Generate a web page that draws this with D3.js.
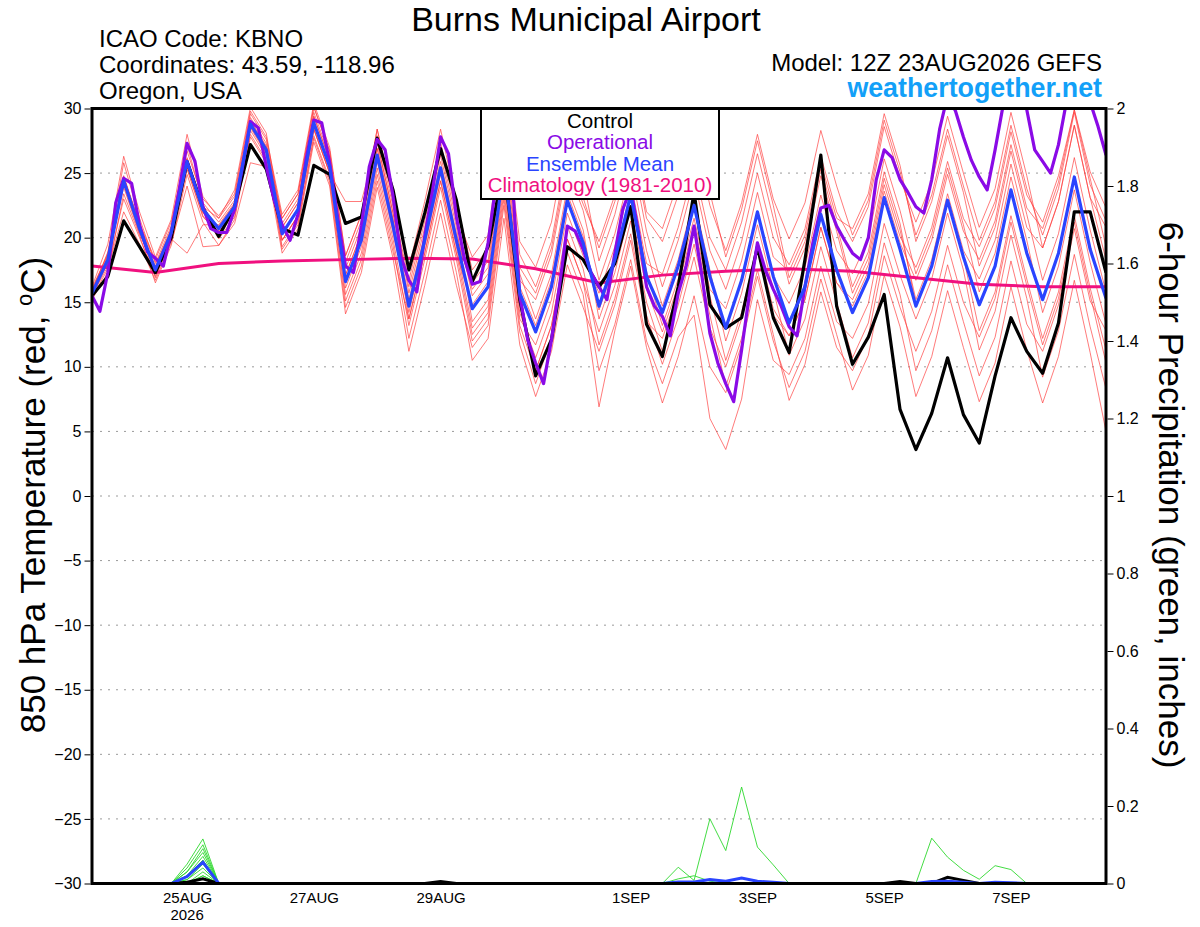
<!DOCTYPE html>
<html><head><meta charset="utf-8">
<script src="https://cdn.jsdelivr.net/npm/d3@7"></script>
<style>
html,body{margin:0;padding:0;background:#fff;}
svg{display:block;font-family:"Liberation Sans",Arial,Helvetica,sans-serif;}
</style></head><body>
<svg id="chart" width="1200" height="927"></svg>
<script>
// ---------------- DATA ----------------
const runStartUTC = [2026, 7, 23, 12];           // 12Z 23AUG2026
const tickDateStrings = ["2026-08-25","2026-08-27","2026-08-29","2026-09-01","2026-09-03","2026-09-05","2026-09-07"];
const tickLabels = ["25AUG","27AUG","29AUG","1SEP","3SEP","5SEP","7SEP"];
const yearLabel = "2026";
const tempTicks = [-30,-25,-20,-15,-10,-5,0,5,10,15,20,25,30];
const precipTicks = [0,0.2,0.4,0.6,0.8,1,1.2,1.4,1.6,1.8,2];
const precipTickLabels = ["0","0.2","0.4","0.6","0.8","1","1.2","1.4","1.6","1.8","2"];

// Control (6-hourly, °C)
const control = [15.5,17.0,21.3,19.3, 17.3,20.0,25.9,22.3, 20.1,22.4,27.2,25.3, 20.7,20.2,25.6,24.9,
 21.1,21.6,27.7,23.7, 17.5,21.9,26.9,22.9, 16.6,19.3,25.5,15.2, 9.3,12.1,19.3,18.3,
 16.2,18.0,22.4,13.3, 10.8,16.2,23.5,14.8, 13.0,13.8,19.3,13.8, 11.1,18.3,26.4,14.7,
 10.2,12.3,15.6,6.7, 3.6,6.4,10.7,6.3, 4.1,9.3,13.8,11.2, 9.5,13.4,22.0,22.0, 17.3];

// Ensemble mean (6-hourly, °C)
const ensMean = [15.7,18.3,24.4,20.7, 17.5,20.4,25.9,22.2, 20.7,22.4,28.8,26.8, 20.3,22.2,28.9,25.5,
 16.6,19.8,26.4,20.9, 14.7,19.8,25.4,19.8, 14.5,16.2,25.5,15.7, 12.7,16.2,22.9,19.6,
 14.7,18.3,23.3,17.0, 14.2,17.8,22.5,17.0, 13.0,16.7,22.0,17.0, 13.4,16.2,21.8,17.5,
 14.2,16.9,23.1,19.1, 14.7,17.8,22.9,18.5, 14.8,17.8,23.7,18.8, 15.2,18.8,24.7,19.1, 15.3];

// Operational (3-hourly, °C)
const operational = [15.5,14.3,17.3,22.7,24.6,24.2,21.0,18.9,18.4,17.8,
 20.4,23.7,27.3,25.9,22.4,20.7,20.4,20.4,22.2,25.5,
 29.0,28.5,25.5,22.9,21.0,19.8,21.8,26.0,29.1,28.9,
 25.8,21.6,17.8,17.3,20.9,25.5,27.6,26.8,23.2,18.5,
 16.7,15.8,20.1,23.7,27.8,26.5,21.6,18.4,16.4,16.6,
 19.6,24.2,27.0,25.0,15.5,12.1,10.3,8.7,12.1,16.2,
 20.9,20.5,19.1,17.3,16.2,15.2,18.8,22.2,23.8,20.4,
 16.2,14.7,13.9,12.4,15.7,17.8,20.9,17.0,12.6,10.3,
 8.7,7.3,11.3,15.7,19.6,17.5,16.0,14.7,13.1,12.4,
 16.2,19.6,22.3,22.5,20.9,19.8,18.8,18.3,20.0,24.5,
 26.8,26.2,24.5,23.5,22.4,21.9,24.5,28.4,31.0,29.8,
 27.8,26.0,24.7,23.7,26.8,30.2,31.5,31.5,29.9,26.8,
 25.9,25.0,27.2,30.5,32.0,32.0,30.5,28.6,26.4];

// Climatology 1981-2010 (daily at 12Z, °C)
const climatology = [17.8,17.3,18.0,18.2,18.3,18.4,18.35,17.6,16.5,17.1,17.4,17.6,17.4,16.9,16.4,16.2,16.2];

// Ensemble members (6-hourly, °C)
const member01 = [16.1,18.7,24.8,21.1, 18.3,21.2,26.7,23.0, 21.7,23.4,29.8,27.8, 21.8,23.7,30.4,27.0, 18.6,21.8,28.4,22.9, 17.7,22.8,28.4,22.8, 17.5,19.2,28.5,18.7, 16.2,19.7,26.4,23.1, 19.2,22.8,27.8,21.5, 19.7,23.3,28.0,22.5, 19.0,22.7,28.0,23.0, 19.9,22.7,28.3,24.0, 20.2,22.9,29.1,25.1, 20.2,23.3,28.4,24.0, 19.8,22.8,28.7,23.8, 20.2,23.8,29.7,24.1, 21.3];
const member02 = [15.3,17.6,22.0,19.5, 16.7,19.6,24.0,19.3, 19.4,21.4,27.8,25.8, 18.8,20.7,27.4,24.0, 14.1,17.3,23.9,18.4, 11.2,16.3,21.9,16.3, 11.5,13.2,22.5,12.7, 8.7,12.2,18.9,15.6, 6.9,12.8,17.8,11.5, 7.2,10.8,15.5,10.0, 8.0,11.7,17.0,12.0, 8.4,11.2,16.8,12.5, 8.2,10.9,17.1,13.1, 7.7,10.8,15.9,11.5, 7.3,10.3,16.2,11.3, 7.2,10.8,16.7,11.1, 5.0];
const member03 = [15.9,18.8,25.8,21.5, 18.0,20.9,27.2,22.7, 21.2,22.9,29.3,27.3, 21.1,23.0,29.7,26.3, 18.1,21.3,27.9,22.4, 16.7,21.8,27.4,21.8, 18.5,20.2,29.5,19.7, 17.7,21.2,27.9,24.6, 18.2,21.8,26.8,20.5, 16.2,19.8,24.5,19.0, 16.0,19.7,25.0,20.0, 17.9,20.7,26.3,22.0, 19.7,22.4,28.6,24.6, 21.2,24.3,29.4,25.0, 20.8,23.8,29.7,24.8, 19.2,22.8,28.7,23.1, 18.3];
const member04 = [15.5,17.8,23.0,20.0, 17.0,19.9,25.4,21.7, 20.2,21.9,28.3,26.3, 19.3,21.2,27.9,24.5, 15.6,18.8,25.4,19.9, 13.2,18.3,23.9,18.3, 12.0,13.7,23.0,13.2, 9.7,13.2,19.9,16.6, 12.7,16.3,21.3,15.0, 11.2,14.8,19.5,14.0, 8.5,12.2,17.5,12.5, 7.4,10.2,15.8,11.5, 9.7,12.4,18.6,14.6, 11.2,14.3,19.4,15.0, 12.3,15.3,21.2,16.3, 11.7,15.3,21.2,15.6, 10.3];
const member05 = [16.0,18.5,24.7,21.0, 17.7,20.6,26.1,22.4, 21.5,23.2,29.6,27.6, 21.5,23.4,30.1,26.7, 17.1,20.3,26.9,21.4, 13.7,18.8,24.4,18.8, 12.5,14.2,23.5,13.7, 11.7,15.2,21.9,18.6, 15.7,19.3,24.3,18.0, 17.2,20.8,25.5,20.0, 17.5,21.2,26.5,21.5, 16.4,19.2,24.8,20.5, 15.7,18.4,24.6,20.6, 15.2,18.3,23.4,19.0, 16.8,19.8,25.7,20.8, 19.2,22.8,28.7,23.1, 20.8];
const member06 = [15.4,18.1,24.1,20.4, 17.3,20.2,25.7,22.0, 19.9,21.6,28.0,26.0, 19.8,21.7,28.4,25.0, 22.8,22.8,27.4,21.9, 16.2,21.3,26.9,21.3, 15.5,17.2,26.5,16.7, 15.2,18.7,25.4,22.1, 16.7,20.3,25.3,19.0, 14.7,18.3,23.0,17.5, 12.0,15.7,21.0,16.0, 10.9,13.7,19.3,15.0, 10.7,13.4,19.6,15.6, 9.7,12.8,17.9,13.5, 9.3,12.3,18.2,13.3, 11.2,14.8,20.7,15.1, 12.8];
const member07 = [15.8,18.9,24.7,21.0, 18.1,19.9,18.8,21.0, 21.0,22.7,29.1,27.1, 19.8,21.7,28.4,25.0, 15.1,18.3,24.9,19.4, 12.2,17.3,22.9,17.3, 10.5,12.2,21.5,11.7, 7.7,11.2,17.9,14.6, 11.2,14.8,19.8,13.5, 12.2,15.8,20.5,15.0, 13.0,16.7,22.0,17.0, 14.9,17.7,23.3,19.0, 17.2,19.9,26.1,22.1, 17.2,20.3,25.4,21.0, 15.8,18.8,24.7,19.8, 14.2,17.8,23.7,18.1, 13.3];
const member08 = [15.6,18.2,24.3,20.6, 16.9,19.8,25.3,21.6, 20.4,22.1,28.5,26.5, 20.8,22.7,29.4,26.0, 17.6,20.8,27.4,21.9, 15.2,20.3,25.9,20.3, 16.0,17.7,27.0,17.2, 13.7,17.2,23.9,20.6, 13.7,17.3,22.3,16.0, 12.7,16.3,21.0,15.5, 10.5,14.2,19.5,14.5, 12.4,15.2,20.8,16.5, 14.7,17.4,23.6,19.6, 16.7,19.8,24.9,20.5, 18.3,21.3,27.2,22.3, 20.7,24.3,29.9,24.6, 19.3];
const member09 = [16.2,19.5,26.3,22.0, 18.5,21.4,28.0,23.2, 21.5,23.7,30.1,28.1, 20.8,22.7,29.4,26.0, 16.1,19.3,25.9,20.4, 14.7,19.8,25.4,19.8, 16.5,18.2,27.5,17.7, 15.7,19.2,25.9,22.6, 19.7,23.3,28.3,22.0, 20.7,24.3,29.0,23.5, 18.5,22.2,27.5,22.5, 16.9,19.7,25.3,21.0, 16.2,18.9,25.1,21.1, 14.7,17.8,22.9,18.5, 12.8,15.8,21.7,16.8, 12.2,15.8,21.7,16.1, 11.3];
const member10 = [15.2,17.3,23.4,20.2, 16.5,19.4,24.9,21.2, 19.4,21.1,25.8,25.5, 19.8,21.7,28.4,25.0, 17.1,20.3,26.9,21.4, 14.2,19.3,24.9,19.3, 13.0,14.7,24.0,14.2, 10.7,14.2,20.9,17.6, 11.7,15.3,20.3,14.0, 10.2,13.8,18.5,13.0, 10.0,13.7,19.0,14.0, 12.4,15.2,20.8,16.5, 15.2,17.9,24.1,20.1, 17.7,20.8,25.9,21.5, 19.3,22.3,28.2,23.3, 21.2,24.8,29.9,25.1, 22.3];
const member11 = [15.6,18.6,23.9,20.3, 17.8,20.7,26.2,22.5, 20.5,22.2,28.6,26.6, 19.1,21.0,27.7,24.3, 14.6,17.8,24.4,18.9, 13.7,18.8,24.4,18.8, 14.8,16.6,25.0,16.2, 13.2,16.7,23.4,20.1, 14.4,17.9,23.8,17.4, 13.2,16.8,21.5,16.0, 14.5,18.2,23.5,18.5, 17.4,20.2,25.8,21.5, 20.7,23.4,29.6,25.6, 19.7,22.8,27.9,23.5, 17.8,20.8,26.7,21.8, 16.7,20.3,26.2,20.6, 15.8];
const member12 = [15.8,18.0,24.5,21.0, 17.2,20.1,25.6,21.9, 20.9,22.6,29.0,27.0, 21.5,23.4,30.1,26.7, 18.6,21.8,28.4,22.9, 15.7,20.8,26.4,20.8, 13.5,15.2,24.5,14.7, 9.7,13.2,19.9,16.6, 9.7,13.3,18.3,12.0, 8.7,12.3,14.0,6.0, 3.6,7.5,15.2,10.5, 9.4,12.2,17.8,13.5, 12.2,14.9,21.1,17.1, 13.7,16.8,21.9,17.5, 11.3,14.3,20.2,15.3, 9.2,12.8,18.7,13.1, 8.3];
const members = [member01,member02,member03,member04,member05,member06,member07,member08,member09,member10,member11,member12];

// 6-hour precipitation (inches), 6-hourly
const precipControl = [0,0,0,0,0, 0,0.003,0.012,0,0, 0,0,0,0,0, 0,0,0,0,0, 0,0,0.005,0,0, 0,0,0,0,0, 0,0,0,0,0, 0,0,0,0,0, 0,0,0,0,0, 0,0,0,0,0, 0,0.005,0,0,0.016, 0.008,0,0,0,0, 0,0,0,0,0];
const precipMean = [0,0,0,0,0, 0,0.018,0.055,0,0, 0,0,0,0,0, 0,0,0,0,0, 0,0,0,0,0, 0,0,0,0,0, 0,0,0,0,0, 0,0,0.004,0.004,0.010, 0.006,0.014,0.006,0.003,0, 0,0,0,0,0, 0,0,0,0.005,0.006, 0.003,0,0.003,0.002,0, 0,0,0,0,0];
const precipM01 = [0,0,0,0,0, 0,0.02,0.07,0,0, 0,0,0,0,0, 0,0,0,0,0, 0,0,0,0,0, 0,0,0,0,0, 0,0,0,0,0, 0,0,0,0,0, 0,0,0,0,0, 0,0,0,0,0, 0,0,0,0,0, 0,0,0,0,0, 0,0,0,0,0];
const precipM02 = [0,0,0,0,0, 0,0,0.02,0,0, 0,0,0,0,0, 0,0,0,0,0, 0,0,0,0,0, 0,0,0,0,0, 0,0,0,0,0, 0,0,0,0,0, 0,0,0,0,0, 0,0,0,0,0, 0,0,0,0,0, 0,0,0,0,0, 0,0,0,0,0];
const precipM03 = [0,0,0,0,0, 0,0.05,0.115,0,0, 0,0,0,0,0, 0,0,0,0,0, 0,0,0,0,0, 0,0,0,0,0, 0,0,0,0,0, 0,0,0,0,0, 0,0,0,0,0, 0,0,0,0,0, 0,0,0,0,0, 0,0,0,0,0, 0,0,0,0,0];
const precipM04 = [0,0,0,0,0, 0,0.01,0.05,0,0, 0,0,0,0,0, 0,0,0,0,0, 0,0,0,0,0, 0,0,0,0,0, 0,0,0,0,0, 0,0,0,0,0, 0,0,0,0,0, 0,0,0,0,0, 0,0,0,0,0, 0,0,0,0,0, 0,0,0,0,0];
const precipM05 = [0,0,0,0,0, 0,0.03,0.09,0,0, 0,0,0,0,0, 0,0,0,0,0, 0,0,0,0,0, 0,0,0,0,0, 0,0,0,0,0, 0,0,0.042,0.008,0.167, 0.085,0.249,0.094,0.048,0, 0,0,0,0,0, 0,0,0,0,0, 0,0,0,0,0, 0,0,0,0,0];
const precipM06 = [0,0,0,0,0, 0,0,0.03,0,0, 0,0,0,0,0, 0,0,0,0,0, 0,0,0,0,0, 0,0,0,0,0, 0,0,0,0,0, 0,0,0,0,0, 0,0,0,0,0, 0,0,0,0,0, 0,0,0,0,0, 0,0,0,0,0, 0,0,0,0,0];
const precipM07 = [0,0,0,0,0, 0,0.04,0.10,0,0, 0,0,0,0,0, 0,0,0,0,0, 0,0,0,0,0, 0,0,0,0,0, 0,0,0,0,0, 0,0,0,0,0, 0,0,0,0,0, 0,0,0,0,0, 0,0,0,0,0, 0,0,0,0,0, 0,0,0,0,0];
const precipM08 = [0,0,0,0,0, 0,0.02,0.06,0,0, 0,0,0,0,0, 0,0,0,0,0, 0,0,0,0,0, 0,0,0,0,0, 0,0,0,0,0, 0,0,0,0,0, 0,0,0,0,0, 0,0,0,0,0, 0,0,0,0.117,0.068, 0.034,0.011,0.046,0.036,0, 0,0,0,0,0];
const precipM09 = [0,0,0,0,0, 0,0.01,0.04,0,0, 0,0,0,0,0, 0,0,0,0,0, 0,0,0,0,0, 0,0,0,0,0, 0,0,0,0,0, 0,0,0.012,0.02,0.006, 0,0,0,0,0, 0,0,0,0,0, 0,0,0,0,0, 0,0,0,0,0, 0,0,0,0,0];
const precipM10 = [0,0,0,0,0, 0,0.03,0.08,0,0, 0,0,0,0,0, 0,0,0,0,0, 0,0,0,0,0, 0,0,0,0,0, 0,0,0,0,0, 0,0,0,0,0, 0,0,0,0,0, 0,0,0,0,0, 0,0,0,0,0, 0,0,0,0,0, 0,0,0,0,0];
const precipM11 = [0,0,0,0,0, 0,0,0.02,0,0, 0,0,0,0,0, 0,0,0,0,0, 0,0,0,0,0, 0,0,0,0,0, 0,0,0,0,0, 0,0,0,0,0, 0,0,0,0,0, 0,0,0,0,0, 0,0,0,0,0, 0,0,0,0,0, 0,0,0,0,0];
const precipM12 = [0,0,0,0,0, 0,0.02,0.06,0,0, 0,0,0,0,0, 0,0,0,0,0, 0,0,0,0,0, 0,0,0,0,0, 0,0,0,0,0, 0,0,0,0,0, 0,0,0,0,0, 0,0,0,0,0, 0,0,0,0,0, 0,0,0,0,0, 0,0,0,0,0];
const precipMembers = [precipM01,precipM02,precipM03,precipM04,precipM05,precipM06,precipM07,precipM08,precipM09,precipM10,precipM11,precipM12];

const legendItems = [
  {label:"Control", color:"#000000"},
  {label:"Operational", color:"#8a0ae6"},
  {label:"Ensemble Mean", color:"#2a44ff"},
  {label:"Climatology (1981-2010)", color:"#f0107f"}
];

// ---------------- CHART ----------------
const svg = d3.select("#chart");
const W = 1200, Hh = 927;
const plot = {left:92, right:1106, top:108.5, bottom:883.5};
const HOUR = 3600e3;
const t0 = Date.UTC(...runStartUTC);
const t6 = d3.range(control.length).map(i => new Date(t0 + i*6*HOUR));
const t3 = d3.range(operational.length).map(j => new Date(t0 + j*3*HOUR));
const tClim = d3.range(climatology.length).map(k => new Date(t0 + k*24*HOUR));

const x = d3.scaleUtc().domain([new Date(t0), t6[t6.length-1]]).range([plot.left, plot.right]);
const yT = d3.scaleLinear().domain([-30,30]).range([plot.bottom, plot.top]);
const yP = d3.scaleLinear().domain([0,2]).range([plot.bottom, plot.top]);

svg.append("rect").attr("width",W).attr("height",Hh).attr("fill","#fff");

svg.append("defs").append("clipPath").attr("id","clip")
  .append("rect").attr("x",plot.left).attr("y",plot.top).attr("width",plot.right-plot.left).attr("height",plot.bottom-plot.top);

// gridlines
svg.append("g").selectAll("line").data(tempTicks.filter(v => v>-30 && v<30)).join("line")
  .attr("x1",plot.left).attr("x2",plot.right)
  .attr("y1",d=>yT(d)).attr("y2",d=>yT(d))
  .attr("stroke","#9a9a9a").attr("stroke-width",1).attr("stroke-dasharray","2,6");

const gLines = svg.append("g").attr("clip-path","url(#clip)");
const lineT = (times) => d3.line().x((d,i)=>x(times[i])).y(d=>yT(d));
const lineP = d3.line().x((d,i)=>x(t6[i])).y(d=>yP(d));

// members
gLines.append("g").selectAll("path").data(members).join("path")
  .attr("d", lineT(t6)).attr("fill","none").attr("stroke","#ff3b3b").attr("stroke-width",0.8).attr("stroke-opacity",0.85);
// precip members
gLines.append("g").selectAll("path").data(precipMembers).join("path")
  .attr("d", lineP).attr("fill","none").attr("stroke","#2ed82e").attr("stroke-width",0.9);
// climatology
gLines.append("path").datum(climatology).attr("d", lineT(tClim))
  .attr("fill","none").attr("stroke","#f0107f").attr("stroke-width",3);
// control
gLines.append("path").datum(control).attr("d", lineT(t6))
  .attr("fill","none").attr("stroke","#000").attr("stroke-width",3.2).attr("stroke-linejoin","round");
// operational
gLines.append("path").datum(operational).attr("d", lineT(t3))
  .attr("fill","none").attr("stroke","#8a0ae6").attr("stroke-width",3.2).attr("stroke-linejoin","round");
// ensemble mean
gLines.append("path").datum(ensMean).attr("d", lineT(t6))
  .attr("fill","none").attr("stroke","#2a44ff").attr("stroke-width",3.2).attr("stroke-linejoin","round");
// precip control & mean
gLines.append("path").datum(precipControl).attr("d", lineP)
  .attr("fill","none").attr("stroke","#000").attr("stroke-width",3);
gLines.append("path").datum(precipMean).attr("d", lineP)
  .attr("fill","none").attr("stroke","#2a44ff").attr("stroke-width",3);

// legend
const lg = svg.append("g");
lg.append("rect").attr("x",481).attr("y",plot.top).attr("width",238).attr("height",90.5)
  .attr("fill","#fff").attr("stroke","#000").attr("stroke-width",2);
lg.selectAll("text").data(legendItems).join("text")
  .attr("x",600).attr("y",(d,i)=>127.5+i*21.5).attr("text-anchor","middle")
  .attr("font-size",20.5).attr("fill",d=>d.color).text(d=>d.label);

// frame
svg.append("rect").attr("x",plot.left).attr("y",plot.top).attr("width",plot.right-plot.left).attr("height",plot.bottom-plot.top)
  .attr("fill","none").attr("stroke","#000").attr("stroke-width",3);

// axes
const axL = svg.append("g").attr("transform",`translate(${plot.left-1.5},0)`)
  .call(d3.axisLeft(yT).tickValues(tempTicks).tickSize(6).tickPadding(3).tickFormat(d3.format("d")));
const axR = svg.append("g").attr("transform",`translate(${plot.right+1.5},0)`)
  .call(d3.axisRight(yP).tickValues(precipTicks).tickSize(6).tickPadding(3).tickFormat((d,i)=>precipTickLabels[i]));
const tickDates = tickDateStrings.map(s => new Date(s + "T00:00:00Z"));
const axB = svg.append("g").attr("transform",`translate(0,${plot.bottom+1.5})`)
  .call(d3.axisBottom(x).tickValues(tickDates).tickSize(0).tickPadding(7).tickFormat((d,i)=>tickLabels[i]));
[axL,axR,axB].forEach(a => {
  a.select(".domain").remove();
  a.selectAll("text").attr("font-family","Liberation Sans, Arial, sans-serif").attr("fill","#000");
  a.selectAll("line").attr("stroke","#000");
});
axL.selectAll("text").attr("font-size",16);
axR.selectAll("text").attr("font-size",16);
axB.selectAll("text").attr("font-size",15);
svg.append("text").attr("x",x(tickDates[0])).attr("y",920).attr("text-anchor","middle")
  .attr("font-size",15).text(yearLabel);

// axis titles
const lt = svg.append("text").attr("transform","translate(45,495) rotate(-90)")
  .attr("text-anchor","middle").attr("font-size",35);
lt.append("tspan").text("850 hPa Temperature (red, ");
lt.append("tspan").attr("font-size",22).attr("dy",-13).text("o");
lt.append("tspan").attr("dy",13).text("C)");
svg.append("text").attr("transform","translate(1159,495) rotate(90)")
  .attr("text-anchor","middle").attr("font-size",35).text("6-hour Precipitation (green, inches)");

// header texts
svg.append("text").attr("x",586).attr("y",31).attr("text-anchor","middle").attr("font-size",34).text("Burns Municipal Airport");
svg.append("text").attr("x",99).attr("y",47).attr("font-size",24).text("ICAO Code: KBNO");
svg.append("text").attr("x",99).attr("y",73).attr("font-size",24).text("Coordinates: 43.59, -118.96");
svg.append("text").attr("x",99).attr("y",99).attr("font-size",24).text("Oregon, USA");
svg.append("text").attr("x",1102).attr("y",71).attr("text-anchor","end").attr("font-size",24).text("Model: 12Z 23AUG2026 GEFS");
svg.append("text").attr("x",1102).attr("y",97).attr("text-anchor","end").attr("font-size",26.8).attr("font-weight","bold")
  .attr("fill","#12a0f8").text("weathertogether.net");
</script>
</body></html>
